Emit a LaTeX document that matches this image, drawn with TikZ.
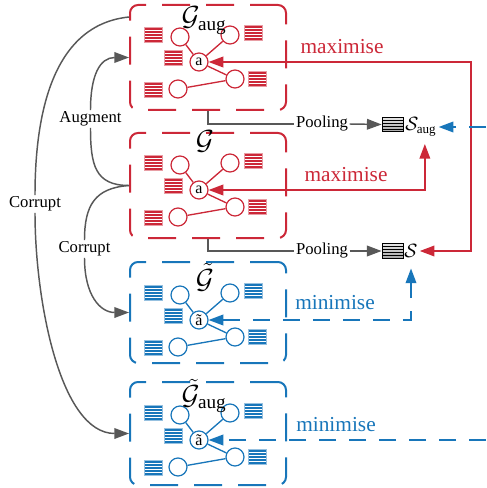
\documentclass[tikz,border=0pt]{standalone}
\usepackage{fontspec}
\setmainfont{Liberation Serif}
\usetikzlibrary{arrows.meta,calc}
\definecolor{myred}{RGB}{204,40,56}
\definecolor{myblue}{RGB}{24,118,186}
\definecolor{mygray}{RGB}{88,88,88}
\tikzset{
  gbox/.style={draw=#1, line width=1.5pt, rounded corners=6pt, dash pattern=on 21pt off 12pt, minimum width=117pt, inner sep=0pt},
  feat/.style={rectangle, minimum width=13.5pt, minimum height=11.25pt, inner sep=0pt, fill=#1, draw=#1!45, line width=0.7pt,
    path picture={\foreach \j in {1,2,3,4}{\draw[white, line width=0.75pt] ($(path picture bounding box.north west)!\j/5!(path picture bounding box.south west)$) -- ($(path picture bounding box.north east)!\j/5!(path picture bounding box.south east)$);}}},
  poolicon/.style={rectangle, minimum width=15.75pt, minimum height=11pt, inner sep=0pt, draw=black, line width=0.6pt, top color=gray!20, bottom color=gray!70,
    path picture={\foreach \j in {1,2,3,4}{\draw[black, line width=0.5pt] ($(path picture bounding box.north west)!\j/5!(path picture bounding box.south west)$) -- ($(path picture bounding box.north east)!\j/5!(path picture bounding box.south east)$);}}},
  vert/.style={circle, draw=#1, fill=white, line width=0.9pt, minimum size=13.5pt, inner sep=0pt, font=\fontsize{12}{13}\selectfont},
  gedge/.style={draw=#1, line width=1pt},
  conn/.style={line width=1.1pt},
  dconn/.style={line width=1.1pt, dash pattern=on 12.75pt off 9.75pt},
  lbl/.style={font=\fontsize{12.5}{14}\selectfont, inner sep=1pt},
  big/.style={font=\fontsize{16}{18}\selectfont, inner sep=0pt},
  gtitle/.style={font=\fontsize{20.74}{24}\selectfont, inner sep=0pt, anchor=base},
}
\begin{document}
\begin{tikzpicture}[x=0.75pt,y=-0.75pt,>={Triangle[length=11pt,width=8pt]}]
\useasboundingbox (0,0) rectangle (486,488);

% boxes
\node[gbox=myred, minimum height=78.75pt] (B1) at (208,57.5) {};
\node[gbox=myred, minimum height=78.75pt] (B2) at (208,185.5) {};
\node[gbox=myblue, minimum height=75.75pt] (B3) at (208,312.5) {};
\node[gbox=myblue, minimum height=77.25pt] (B4) at (208,433.5) {};

% graph contents
\foreach \k/\ay/\col/\lab in {1/62/myred/a, 2/190/myred/a, 3/320/myblue/ã, 4/440/myblue/ã}{
  \node[feat=\col] (fa\k) at (153,\ay-27) {};
  \node[feat=\col] (fb\k) at (173,\ay-4) {};
  \node[feat=\col] (fc\k) at (153,\ay+28) {};
  \node[feat=\col] (fd\k) at (253,\ay-29) {};
  \node[feat=\col] (fe\k) at (257,\ay+17) {};
  \node[vert=\col] (a\k) at (199,\ay) {\lab};
  \node[vert=\col] (ca\k) at (180,\ay-25) {};
  \node[vert=\col] (cb\k) at (230,\ay-27) {};
  \node[vert=\col] (cc\k) at (235,\ay+17) {};
  \node[vert=\col] (cd\k) at (178,\ay+27) {};
  \draw[gedge=\col] (a\k) -- (ca\k) (a\k) -- (cb\k) (a\k) -- (cc\k) (cc\k) -- (cd\k);
}

% titles
\node[gtitle] (t1) at (204,26) {$\mathcal{G}_{\mathrm{aug}}$};
\node[gtitle] (t2) at (205,150) {$\mathcal{G}$};
\node[gtitle] (t3) at (205,288) {$\tilde{\mathcal{G}}$};
\node[gtitle] (t4) at (204,404) {$\tilde{\mathcal{G}}_{\mathrm{aug}}$};

% pooling
\node[lbl] (P1) at (322,124) {Pooling};
\node[lbl] (P2) at (322,251) {Pooling};
\node[poolicon] (I1) at (392.5,124.5) {};
\node[poolicon] (I2) at (392.5,251) {};
\node[anchor=west, inner sep=1.5pt, font=\fontsize{14}{16}\selectfont] (Saug) at (403,127) {$\mathcal{S}_{\mathrm{aug}}$};
\node[inner sep=1.5pt, font=\fontsize{14}{16}\selectfont] (S) at (411,251) {$\mathcal{S}$};
\draw[conn, mygray] (B1.south) |- (P1.west);
\draw[conn, mygray, ->] (P1.east) -- (I1.west);
\draw[conn, mygray] (B2.south) |- (P2.west);
\draw[conn, mygray, ->] (P2.east) -- (I2.west);

% red objectives
\coordinate (r1) at (471,62);
\draw[conn, myred, <->] (a1) -- (r1) |- (S.east);
\draw[conn, myred, <->, shorten >=4pt] (a2) -| ([xshift=3pt]Saug.south);
\node[big, text=myred] (m1) at (342,47) {maximise};
\node[big, text=myred] (m2) at (346,175) {maximise};

% blue objectives
\draw[dconn, myblue, <->, shorten >=6.5pt] (a3) -| (S.south);
\coordinate (b4) at (486,440);
\draw[dconn, myblue, ->] (b4) -- (a4);
\coordinate (b1) at (486,127);
\draw[dconn, myblue, ->] (b1) -- (b1 -| Saug.east);
\node[big, text=myblue] (n1) at (335,303) {minimise};
\node[big, text=myblue] (n2) at (336,425) {minimise};

% left arcs
\node[lbl] (aug) at (90.5,119) {Augment};
\node[lbl] (cor1) at (84.5,249) {Corrupt};
\node[lbl] (cor2) at (35,204) {Corrupt};
\draw[conn, mygray] (B2.west) .. controls (95,185.5) and (90.5,165) .. (aug.south);
\draw[conn, mygray, ->] (aug.north) .. controls (90.5,75) and (100,57.5) .. (B1.west);
\draw[conn, mygray] (B2.west) .. controls (95,188) and (84.5,205) .. (cor1.north);
\draw[conn, mygray, ->] (cor1.south) .. controls (84.5,295) and (100,312.5) .. (B3.west);
\draw[conn, mygray] ([yshift=-9.75pt]B1.north west) .. controls (50,25) and (35,120) .. (cor2.north);
\draw[conn, mygray, ->] (cor2.south) .. controls (35,300) and (60,433.5) .. (B4.west);
\end{tikzpicture}
\end{document}
